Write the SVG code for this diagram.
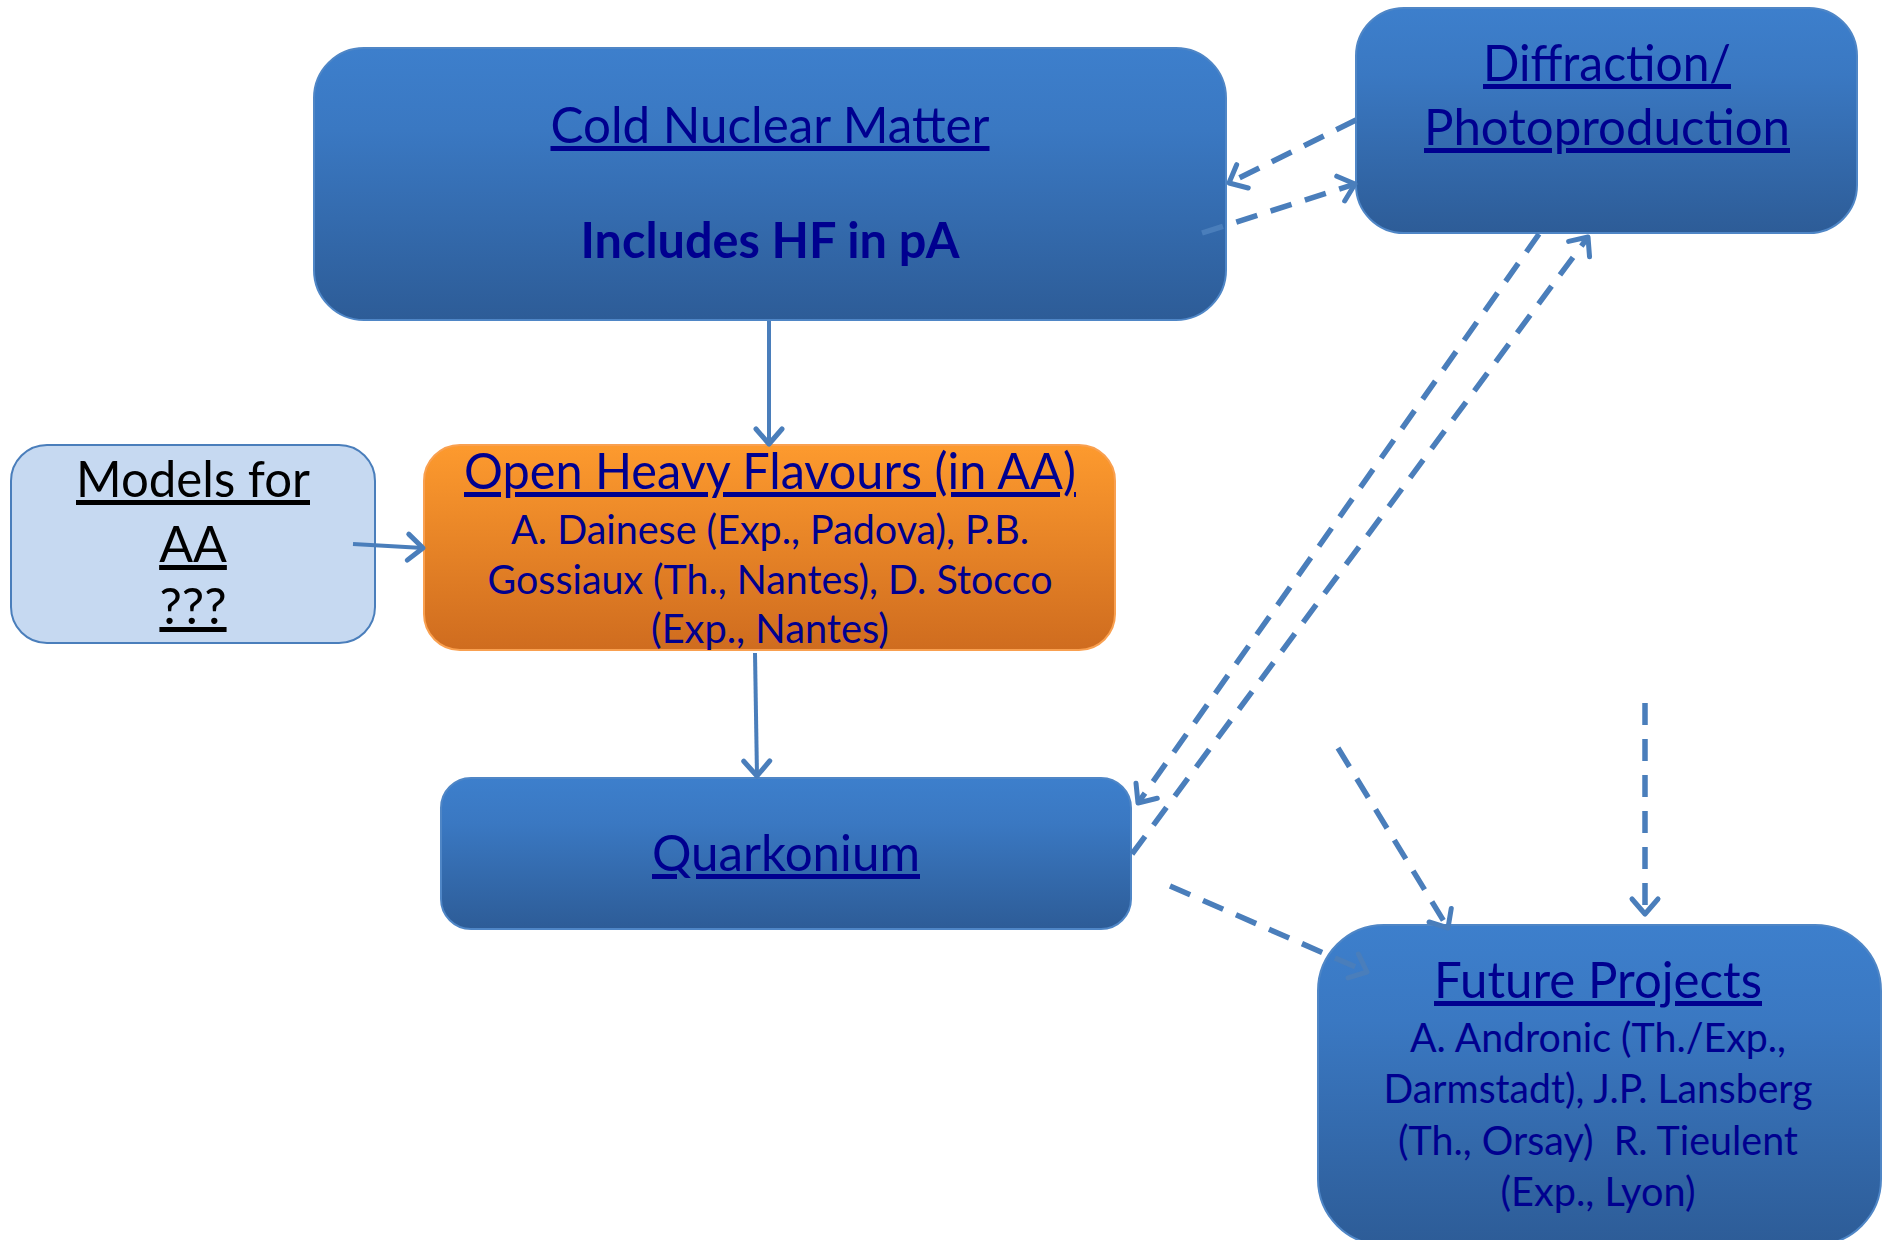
<svg xmlns="http://www.w3.org/2000/svg" width="1885" height="1240" viewBox="0 0 1885 1240">
<defs>
<linearGradient id="gBlue" x1="0" y1="0" x2="0" y2="1">
<stop offset="0" stop-color="#3d7fcc"/>
<stop offset="0.3" stop-color="#3a78c2"/>
<stop offset="1" stop-color="#2d5c97"/>
</linearGradient>
<linearGradient id="gOrange" x1="0" y1="0" x2="0" y2="1">
<stop offset="0" stop-color="#fd9a2e"/>
<stop offset="1" stop-color="#cf6c1f"/>
</linearGradient>
<marker id="arr" markerUnits="userSpaceOnUse" viewBox="-4 -4 24 34" markerWidth="24" markerHeight="34" refX="15" refY="13" orient="auto">
<path d="M0,0 L15,13 L0,26" fill="none" stroke="#4a7ebb" stroke-width="5" stroke-linecap="round" stroke-linejoin="round" stroke-dasharray="none"/>
</marker>
<style>
.blue{fill:url(#gBlue);stroke:#4f86c6;stroke-width:2}
.orange{fill:url(#gOrange);stroke:#f9a050;stroke-width:2}
.light{fill:#c6d9f1;stroke:#4a7ebb;stroke-width:2}
.t{font-family:Lato,"Open Sans",sans-serif;fill:#00008f;text-anchor:middle}
.title{font-size:50px;text-decoration:underline;text-decoration-thickness:3px;text-underline-offset:7px}
.body{font-size:41px}
.bold{font-size:50px;font-weight:bold}
.blk{fill:#000000}
.solid{stroke:#4a7ebb;stroke-width:4;fill:none;marker-end:url(#arr)}
.dash{stroke:#4a7ebb;stroke-width:5.5;fill:none;stroke-dasharray:22 14;marker-end:url(#arr)}
</style>
</defs>
<g id="cnm">
<rect class="blue" x="314" y="48" width="912" height="272" rx="50" ry="50"/>
<text class="t title" x="770" y="143" textLength="439" lengthAdjust="spacingAndGlyphs">Cold Nuclear Matter</text>
<text class="t bold" x="770" y="258" textLength="379" lengthAdjust="spacingAndGlyphs">Includes HF in pA</text>
</g>
<g id="diffraction">
<rect class="blue" x="1356" y="8" width="501" height="225" rx="48" ry="48"/>
<text class="t title" x="1607" y="81" textLength="248" lengthAdjust="spacingAndGlyphs">Diffraction/</text>
<text class="t title" x="1607" y="145" textLength="366" lengthAdjust="spacingAndGlyphs">Photoproduction</text>
</g>
<g id="models">
<rect class="light" x="11" y="445" width="364" height="198" rx="36" ry="36"/>
<text class="t title blk" x="193" y="497" textLength="234" lengthAdjust="spacingAndGlyphs">Models for</text>
<text class="t title blk" x="193" y="562">AA</text>
<text class="t title blk" x="193" y="624">???</text>
</g>
<g id="ohf">
<rect class="orange" x="424" y="445" width="691" height="205" rx="36" ry="36"/>
<text class="t title" x="770" y="489" textLength="612" lengthAdjust="spacingAndGlyphs">Open Heavy Flavours (in AA)</text>
<text class="t body" x="770" y="544" textLength="518" lengthAdjust="spacingAndGlyphs">A. Dainese (Exp., Padova), P.B.</text>
<text class="t body" x="770" y="594" textLength="565" lengthAdjust="spacingAndGlyphs">Gossiaux (Th., Nantes), D. Stocco</text>
<text class="t body" x="770" y="643" textLength="238" lengthAdjust="spacingAndGlyphs">(Exp., Nantes)</text>
</g>
<g id="quarkonium">
<rect class="blue" x="441" y="778" width="690" height="151" rx="30" ry="30"/>
<text class="t title" x="786" y="871" textLength="268" lengthAdjust="spacingAndGlyphs">Quarkonium</text>
</g>
<g id="future">
<rect class="blue" x="1318" y="925" width="563" height="320" rx="66" ry="66"/>
<text class="t title" x="1598" y="998" textLength="328" lengthAdjust="spacingAndGlyphs">Future Projects</text>
<text class="t body" x="1598" y="1052" textLength="376" lengthAdjust="spacingAndGlyphs">A. Andronic (Th./Exp.,</text>
<text class="t body" x="1598" y="1103" textLength="429" lengthAdjust="spacingAndGlyphs">Darmstadt), J.P. Lansberg</text>
<text class="t body" x="1598" y="1155" textLength="400" lengthAdjust="spacingAndGlyphs" xml:space="preserve">(Th., Orsay)  R. Tieulent</text>
<text class="t body" x="1598" y="1206" textLength="195" lengthAdjust="spacingAndGlyphs">(Exp., Lyon)</text>
</g>
<g id="connectors">
<line class="solid" x1="769" y1="321" x2="769" y2="444"/>
<line class="solid" x1="353" y1="544" x2="423" y2="548"/>
<line class="solid" x1="755" y1="653" x2="757" y2="776"/>
<line class="dash" x1="1356" y1="120" x2="1229" y2="183"/>
<line class="dash" x1="1202" y1="233" x2="1355" y2="184"/>
<line class="dash" x1="1539" y1="234" x2="1138" y2="803"/>
<line class="dash" x1="1132" y1="854" x2="1588" y2="237"/>
<line class="dash" x1="1338" y1="748" x2="1448" y2="928"/>
<line class="dash" x1="1645" y1="703" x2="1645" y2="914"/>
<line class="dash" x1="1170" y1="886" x2="1367" y2="972"/>
</g>
</svg>
